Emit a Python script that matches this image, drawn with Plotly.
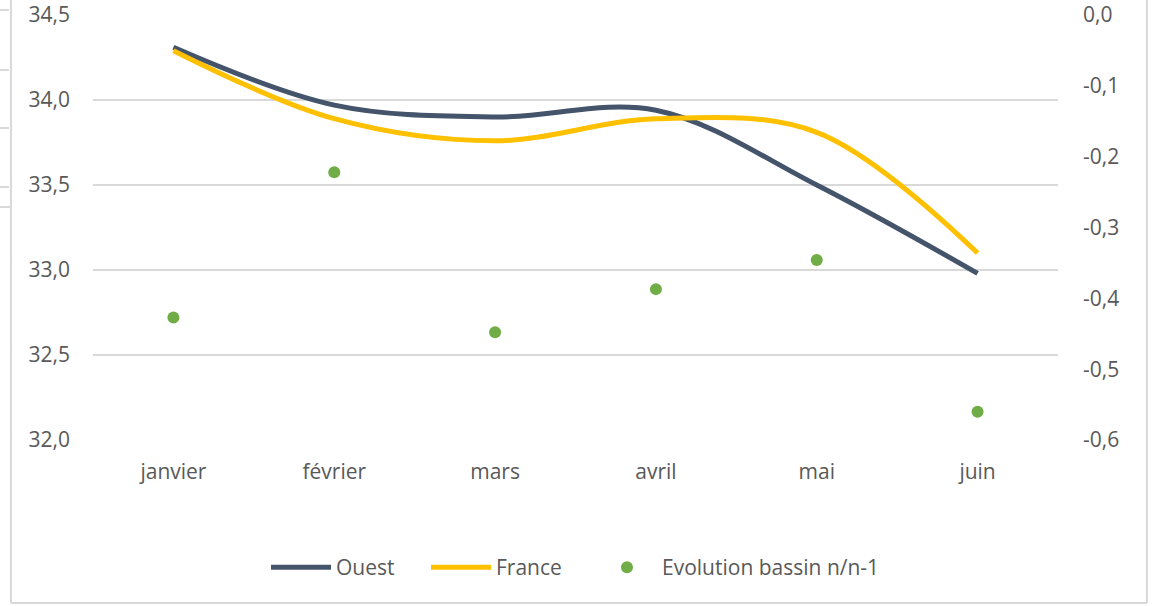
import plotly.graph_objects as go

months = ["janvier", "février", "mars", "avril", "mai", "juin"]
ouest = [34.31, 33.97, 33.90, 33.94, 33.50, 32.98]
france = [34.29, 33.89, 33.76, 33.89, 33.81, 33.10]
evolution = [-0.427, -0.222, -0.448, -0.387, -0.346, -0.560]

left_ticks = [32.0, 32.5, 33.0, 33.5, 34.0, 34.5]
left_labels = ["32,0", "32,5", "33,0", "33,5", "34,0", "34,5"]
right_ticks = [-0.6, -0.5, -0.4, -0.3, -0.2, -0.1, 0.0]
right_labels = ["-0,6", "-0,5", "-0,4", "-0,3", "-0,2", "-0,1", "0,0"]

FONT = "Open Sans"
GRAY = "#595959"
GRID = "#d9d9d9"
FS = 21

fig = go.Figure()
fig.add_trace(go.Scatter(
    x=months, y=ouest, name="Ouest", mode="lines", legend="legend",
    line=dict(color="#44546A", width=5, shape="spline", smoothing=1.0),
))
fig.add_trace(go.Scatter(
    x=months, y=france, name="France", mode="lines", legend="legend2",
    line=dict(color="#FFC000", width=5, shape="spline", smoothing=1.0),
))
fig.add_trace(go.Scatter(
    x=months, y=evolution, name="Evolution bassin n/n-1", mode="markers",
    legend="legend3",
    marker=dict(color="#70AD47", size=12), yaxis="y2",
))

L, R, T, B = 93, 94, 15, 166
W, H = 1152, 606
pw, ph = W - L - R, H - T - B

def px(xp):
    return (xp - L) / pw

def py(yp):
    return (H - B - yp) / ph

shapes = []
line_style = dict(color=GRID, width=2)
# outer frame (left, bottom, right)
shapes.append(dict(type="line", xref="paper", yref="paper", x0=px(11), x1=px(11), y0=py(0), y1=py(603), line=line_style))
shapes.append(dict(type="line", xref="paper", yref="paper", x0=px(11), x1=px(1147), y0=py(603), y1=py(603), line=line_style))
shapes.append(dict(type="line", xref="paper", yref="paper", x0=px(1147), x1=px(1147), y0=py(0), y1=py(603), line=line_style))
# small marks at the far left edge
for yy in [10, 70, 128, 187]:
    shapes.append(dict(type="line", xref="paper", yref="paper", x0=px(0), x1=px(9), y0=py(yy), y1=py(yy), line=line_style))
shapes.append(dict(type="line", xref="paper", yref="paper", x0=px(0), x1=px(11), y0=py(207), y1=py(207), line=line_style))

def legend_at(xpix):
    return dict(
        orientation="h", x=px(xpix), xanchor="left", y=py(547), yanchor="top",
        font=dict(family=FONT, size=FS, color=GRAY),
        itemwidth=60, bgcolor="rgba(0,0,0,0)",
    )

fig.update_layout(
    width=W, height=H,
    margin=dict(l=L, r=R, t=T, b=B, autoexpand=False),
    paper_bgcolor="white", plot_bgcolor="white",
    font=dict(family=FONT, size=FS, color=GRAY),
    showlegend=True,
    legend=legend_at(266),
    legend2=legend_at(426),
    legend3=legend_at(592),
    xaxis=dict(
        type="category", range=[-0.5, 5.5], showgrid=False, zeroline=False,
        showline=False, ticks="", ticklabelstandoff=17,
        tickfont=dict(family=FONT, size=FS, color=GRAY),
    ),
    yaxis=dict(
        range=[32.0, 34.5], tickvals=left_ticks, ticktext=left_labels,
        showgrid=True, gridcolor=GRID, gridwidth=2, zeroline=False,
        showline=False, ticks="", ticklabelstandoff=22,
        tickfont=dict(family=FONT, size=FS, color=GRAY),
    ),
    yaxis2=dict(
        range=[-0.6, 0.0], tickvals=right_ticks, ticktext=right_labels,
        overlaying="y", side="right", showgrid=False, zeroline=False,
        showline=False, ticks="", ticklabelstandoff=24,
        tickfont=dict(family=FONT, size=FS, color=GRAY),
    ),
    shapes=shapes,
)

fig.write_html(
    "out.html",
    config={"displayModeBar": False},
    post_script="document.body.style.margin='0';document.body.style.overflow='hidden';",
)
